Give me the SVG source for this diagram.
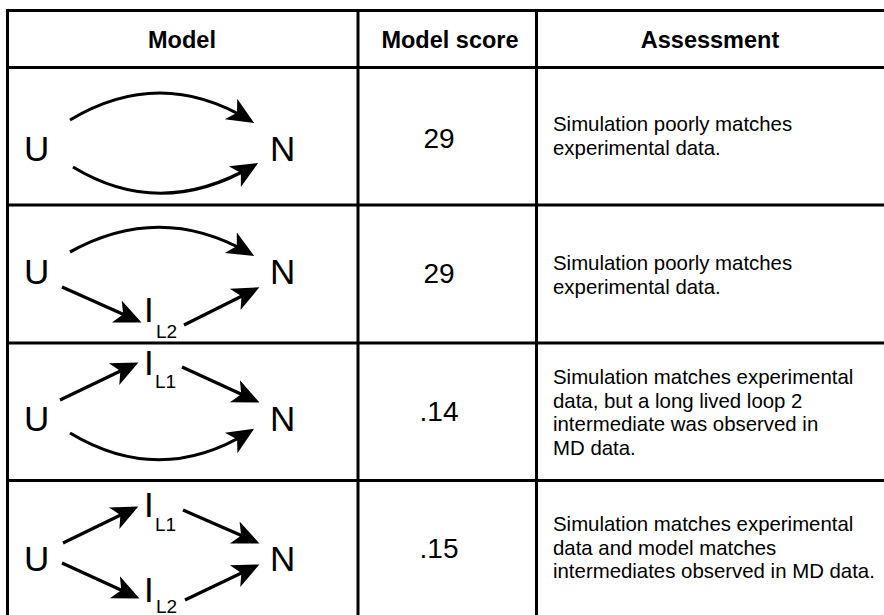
<svg xmlns="http://www.w3.org/2000/svg" width="884" height="615" viewBox="0 0 884 615">
<style>
.grid{stroke:#000;stroke-width:3;fill:none}
.hdr{font-family:"Liberation Sans",Arial,sans-serif;font-weight:bold;font-size:23.5px;fill:#000;text-anchor:middle}
.num{font-family:"Liberation Sans",Arial,sans-serif;font-size:28px;fill:#000;text-anchor:middle}
.txt{font-family:"Liberation Sans",Arial,sans-serif;font-size:20.4px;fill:#000}
.st{font-family:"Liberation Sans",Arial,sans-serif;font-size:35px;fill:#000}
.sub{font-family:"Liberation Sans",Arial,sans-serif;font-size:19px;fill:#000}
.edge{stroke:#000;stroke-width:3.2;fill:none;marker-end:url(#ah)}
</style>
<defs>
<marker id="ah" markerUnits="userSpaceOnUse" markerWidth="32" markerHeight="28" viewBox="0 -14 32 28" refX="21" refY="0" orient="auto">
<path d="M0,-12 L27,0 L0,12 L7,0 Z" fill="#000"/>
</marker>
</defs>
<rect width="884" height="615" fill="#fff"/>
<g id="table">
<line class="grid" x1="6" y1="10.5" x2="884" y2="10.5"/>
<line class="grid" x1="7.5" y1="9" x2="7.5" y2="615"/>
<line class="grid" x1="6" y1="67.5" x2="884" y2="67.5"/>
<line class="grid" x1="6" y1="205" x2="884" y2="205"/>
<line class="grid" x1="6" y1="343" x2="884" y2="343"/>
<line class="grid" x1="6" y1="480.5" x2="884" y2="480.5"/>
<line class="grid" x1="358" y1="9" x2="358" y2="615"/>
<line class="grid" x1="536.5" y1="9" x2="536.5" y2="615"/>
</g>
<g id="header">
<text class="hdr" x="182" y="48">Model</text>
<text class="hdr" x="450" y="48">Model score</text>
<text class="hdr" x="710" y="48">Assessment</text>
</g>
<g id="row1">
<text class="st" x="24" y="161">U</text>
<text class="st" x="270" y="161">N</text>
<text class="num" x="439" y="148">29</text>
<text class="txt"><tspan x="553" y="131">Simulation poorly matches</tspan><tspan x="553" y="155">experimental data.</tspan></text>
</g>
<g id="row2">
<text class="st" x="24" y="284">U</text>
<text class="st" x="270" y="284">N</text>
<text class="st" x="144" y="322">I</text><text class="sub" x="156" y="338">L2</text>
<text class="num" x="439" y="283">29</text>
<text class="txt"><tspan x="553" y="270">Simulation poorly matches</tspan><tspan x="553" y="294">experimental data.</tspan></text>
</g>
<g id="row3">
<text class="st" x="24" y="431">U</text>
<text class="st" x="270" y="431">N</text>
<text class="st" x="144" y="375">I</text><text class="sub" x="155" y="388">L1</text>
<text class="num" x="439" y="421">.14</text>
<text class="txt"><tspan x="553" y="384">Simulation matches experimental</tspan><tspan x="553" y="407.5">data, but a long lived loop 2</tspan><tspan x="553" y="431">intermediate was observed in</tspan><tspan x="553" y="455">MD data.</tspan></text>
</g>
<g id="row4">
<text class="st" x="24" y="571">U</text>
<text class="st" x="270" y="571">N</text>
<text class="st" x="144" y="517">I</text><text class="sub" x="155" y="531">L1</text>
<text class="st" x="144" y="602">I</text><text class="sub" x="156" y="613">L2</text>
<text class="num" x="439" y="558">.15</text>
<text class="txt"><tspan x="553" y="531">Simulation matches experimental</tspan><tspan x="553" y="555">data and model matches</tspan><tspan x="553" y="578">intermediates observed in MD data.</tspan></text>
</g>
<g id="connectors">
<path class="edge" d="M70,120 Q160,66 249,120"/>
<path class="edge" d="M73,167 Q160,220 253,166"/>
<path class="edge" d="M70,252 Q160,202 249,253"/>
<path class="edge" d="M62,287 L136,320"/>
<path class="edge" d="M184,325 L254,290"/>
<path class="edge" d="M60,400 L133,365"/>
<path class="edge" d="M182,367 L254,400"/>
<path class="edge" d="M70,433 Q160,487 249,432"/>
<path class="edge" d="M63,543 L133,509"/>
<path class="edge" d="M183,510 L254,541"/>
<path class="edge" d="M62,563 L134,596"/>
<path class="edge" d="M185,600 L254,567"/>
</g>
</svg>
